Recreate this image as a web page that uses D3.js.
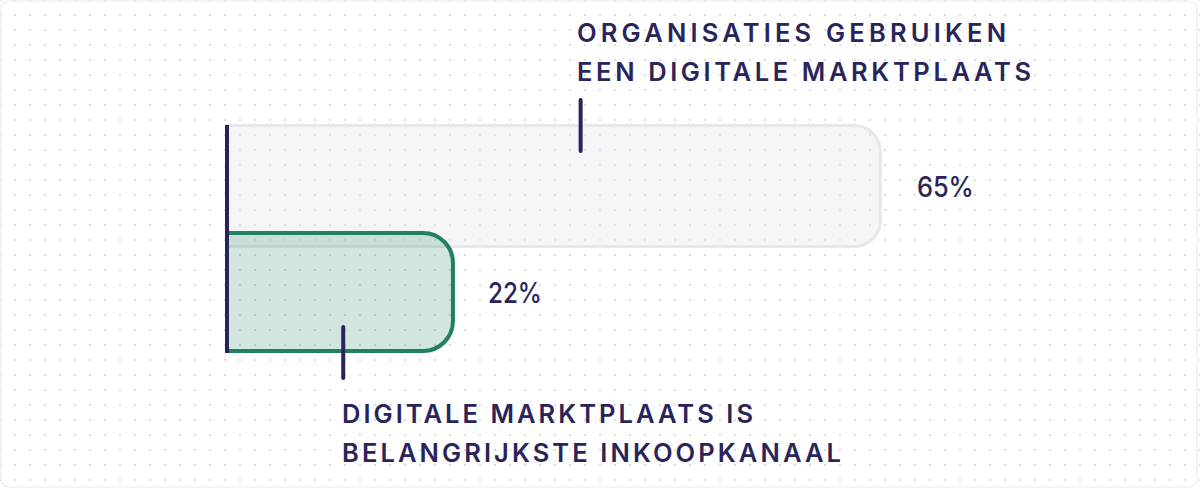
<!DOCTYPE html>
<html>
<head>
<meta charset="utf-8">
<script src="https://cdn.jsdelivr.net/npm/d3@7"></script>
<style>
  html, body { margin: 0; padding: 0; background: #ffffff; }
  svg { display: block; }
</style>
</head>
<body>
<svg id="chart" width="1200" height="488"></svg>
<script>
// ---- data ----
const categories = ["Organisaties gebruiken een digitale marktplaats", "Digitale marktplaats is belangrijkste inkoopkanaal"];
const values = [65, 22];
const valueLabels = ["65%", "22%"];
const markerValues = [34.8, 11];
const labelLines = [
  ["ORGANISATIES GEBRUIKEN", "EEN DIGITALE MARKTPLAATS"],
  ["DIGITALE MARKTPLAATS IS", "BELANGRIJKSTE INKOOPKANAAL"]
];

// ---- layout ----
const W = 1200, H = 488;
const navy = "#29245a";
const svg = d3.select("#chart");

const x = d3.scaleLinear().domain([0, 100]).range([233.5, 1231]);
const y = d3.scalePoint().domain(categories).range([186, 292]);
const barH = 120;
const axisX = 227;

// background dot grid
const defs = svg.append("defs");
const pat = defs.append("pattern").attr("id", "dots").attr("patternUnits", "userSpaceOnUse")
  .attr("width", 15).attr("height", 15).attr("x", 0).attr("y", 0);
[[0, 0], [15, 0], [0, 15], [15, 15]].forEach(p => {
  pat.append("circle").attr("cx", p[0]).attr("cy", p[1]).attr("r", 1.1).attr("fill", "#d4d4d6");
});
svg.append("rect").attr("x", 0).attr("y", 0).attr("width", W).attr("height", H).attr("fill", "#ffffff");
svg.append("rect").attr("x", 0).attr("y", 0).attr("width", W).attr("height", H).attr("fill", "url(#dots)");
svg.append("rect").attr("x", 1).attr("y", 1).attr("width", 1196).attr("height", 486)
  .attr("rx", 8).attr("fill", "none").attr("stroke", "#e9e9eb").attr("stroke-width", 1.2);

// bar path: flat left, rounded right
function barPath(x0, x1, yc, h, r) {
  const t = yc - h / 2, b = yc + h / 2;
  return `M${x0},${t} H${x1 - r} A${r},${r} 0 0 1 ${x1},${t + r} V${b - r} A${r},${r} 0 0 1 ${x1 - r},${b} H${x0} Z`;
}

const styles = [
  { fill: "rgba(232,232,238,0.45)", stroke: "#e8e8ec", sw: 3, r: 26, h: barH + 1 },
  { fill: "rgba(31,129,96,0.2)", stroke: "#1f8161", sw: 4, r: 30, h: barH - 2 }
];

svg.append("g").selectAll("path.bar").data(values).join("path")
  .attr("class", "bar")
  .attr("d", (d, i) => barPath(axisX, x(d) - (i === 0 ? 1.5 : 0), y(categories[i]), styles[i].h, styles[i].r))
  .attr("fill", (d, i) => styles[i].fill)
  .attr("stroke", (d, i) => styles[i].stroke)
  .attr("stroke-width", (d, i) => styles[i].sw);

// axis line
svg.append("line").attr("x1", axisX).attr("x2", axisX)
  .attr("y1", y(categories[0]) - barH / 2 - 1).attr("y2", y(categories[1]) + barH / 2 + 1)
  .attr("stroke", navy).attr("stroke-width", 4);

// value labels
svg.append("g").selectAll("text.val").data(values).join("text")
  .attr("class", "val")
  .attr("x", d => x(d) + 35)
  .attr("y", (d, i) => y(categories[i]) + 11)
  .attr("font-family", "Inter, 'Open Sans', sans-serif")
  .attr("font-size", 28)
  .attr("font-weight", 500)
  .attr("fill", navy)
  .attr("textLength", (d, i) => i === 0 ? 57 : 54)
  .attr("lengthAdjust", "spacingAndGlyphs")
  .text((d, i) => valueLabels[i]);

// marker ticks
const markerY = [[100, 151], [327, 378]];
svg.append("g").selectAll("line.mk").data(markerValues).join("line")
  .attr("class", "mk")
  .attr("x1", d => x(d)).attr("x2", d => x(d))
  .attr("y1", (d, i) => markerY[i][0]).attr("y2", (d, i) => markerY[i][1])
  .attr("stroke", navy).attr("stroke-width", 4).attr("stroke-linecap", "round");

// annotation labels
const baselines = [[42, 81], [423, 462]];
const widths = [[429, 454], [411, 499]];
const labelX = [577, 342];
labelLines.forEach((lines, i) => {
  const g = svg.append("g");
  lines.forEach((t, j) => {
    g.append("text")
      .attr("x", labelX[i])
      .attr("y", baselines[i][j])
      .attr("font-family", "Inter, 'Open Sans', sans-serif")
      .attr("font-size", 25.5)
      .attr("font-weight", 600)
      .attr("fill", navy)
      .attr("textLength", widths[i][j])
      .attr("lengthAdjust", "spacing")
      .text(t);
  });
});
</script>
</body>
</html>
